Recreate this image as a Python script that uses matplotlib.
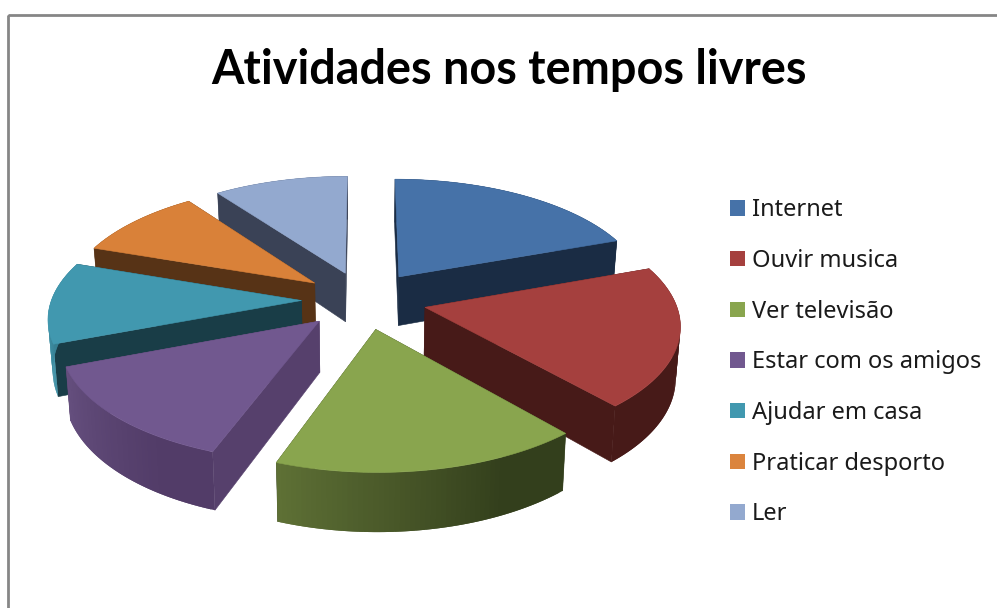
#!/usr/bin/env python3
"""Exploded 3D-look pie of free time activities, projected by hand."""
import numpy as np
import matplotlib
matplotlib.use("Agg")
import matplotlib.pyplot as plt
from matplotlib.colors import to_rgb
from matplotlib.patches import Patch, Polygon, Rectangle

TITLE = "Atividades nos tempos livres"
LABELS = ["Internet", "Ouvir musica", "Ver televisão", "Estar com os amigos",
          "Ajudar em casa", "Praticar desporto", "Ler"]
VALUES = [70, 69, 61, 49, 40, 35, 36]

TOP_COLORS = ["#4672A8", "#A5403E", "#89A54E", "#71588F", "#4198AF", "#D98139", "#93A9CF"]
WALL_COLORS = ["#1A2C44", "#471A18", "#333F1C", "#56406C", "#193D47", "#573316", "#3A4256"]
RIM_START = ["#1A2C44", "#471A18", "#333F1C", "#523C68", "#3F91A6", "#573316", "#3A4256"]
RIM_END = ["#1A2C44", "#471A18", "#5E7035", "#654F7E", "#2A6676", "#573316", "#3A4256"]
LEGEND_COLORS = ["#4672A8", "#A5403E", "#89A54E", "#71588F", "#4198AF", "#DB843D", "#93A9CF"]

# back to front
DRAW_ORDER = [6, 0, 5, 4, 1, 3, 2]

# projection, in pixels of the 997x608 picture
CX, CY = 364, 300
RX, RY = 250, 116
PERSP = 0.13
DEPTH = 50
EXPLODE = 0.25
DROP_SHRINK = 0.985


def project(u, v, drop=False):
    u = np.asarray(u, dtype=float)
    v = np.asarray(v, dtype=float)
    f = 1 + PERSP * v
    x = RX * u / f
    y = CY - RY * v / f
    if drop:
        x = x * DROP_SHRINK
        y = y + DEPTH / f
    return np.column_stack([CX + x, y])


def draw_slice(ax, start, end, i):
    mid = (start + end) / 2
    u0 = EXPLODE * np.sin(mid)
    v0 = EXPLODE * np.cos(mid)
    theta = np.linspace(start, end, 61)
    u = u0 + np.sin(theta)
    v = v0 + np.cos(theta)

    apex_hi = project([u0], [v0])
    apex_lo = project([u0], [v0], drop=True)
    rim_hi = project(u, v)
    rim_lo = project(u, v, drop=True)

    # radial walls
    for k in (0, -1):
        quad = np.vstack([apex_hi, rim_hi[k], rim_lo[k], apex_lo])
        ax.add_patch(Polygon(quad, facecolor=WALL_COLORS[i], edgecolor=WALL_COLORS[i],
                             linewidth=0.4))

    # outer wall in strips for the shading; each strip runs under the next one
    c0 = np.array(to_rgb(RIM_START[i]))
    c1 = np.array(to_rgb(RIM_END[i]))
    n = len(theta)
    for k in range(n - 1):
        t = min(1.0, max(0.0, (k / (n - 2) - 0.25) / 0.75))
        col = c0 + (c1 - c0) * t
        e = min(k + 3, n)
        quad = np.vstack([rim_hi[k:e], rim_lo[k:e][::-1]])
        ax.add_patch(Polygon(quad, facecolor=col, edgecolor="none"))

    ax.add_patch(Polygon(np.vstack([apex_hi, rim_hi]), facecolor=TOP_COLORS[i],
                         edgecolor=TOP_COLORS[i], linewidth=0.4))


def main():
    fig = plt.figure(figsize=(9.97, 6.08), dpi=100)
    ax = fig.add_axes([0, 0, 1, 1])
    ax.set_xlim(0, 997)
    ax.set_ylim(608, 0)
    ax.axis("off")

    ax.add_patch(Rectangle((8, 15), 1200, 800, fill=False, edgecolor="#868686", linewidth=2))

    angles = np.radians(np.cumsum([0] + VALUES) * 360 / sum(VALUES))
    for i in DRAW_ORDER:
        draw_slice(ax, angles[i], angles[i + 1], i)

    ax.text(509, 70, TITLE, ha="center", va="center", fontsize=33.7, fontweight="bold",
            family="Lato", color="black")

    handles = [Patch(facecolor=c, edgecolor="none") for c in LEGEND_COLORS]
    ax.legend(handles, LABELS, loc="upper left", bbox_to_anchor=(709 / 997, 1 - 177 / 608),
              frameon=False, labelspacing=1.13, handlelength=0.62,
              handleheight=0.62, handletextpad=0.3, borderpad=0.4,
              prop={"family": "Noto Sans", "size": 17}, labelcolor="#1a1a1a")

    fig.savefig("out.png", dpi=100)
    plt.close(fig)


if __name__ == "__main__":
    main()
